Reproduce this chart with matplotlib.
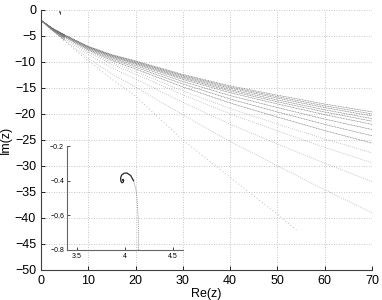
import matplotlib
matplotlib.use("Agg")
import matplotlib.pyplot as plt

plt.rcParams['font.family'] = ['Liberation Sans', 'DejaVu Sans']

# sample abscissae of the trajectories (Re z)
xs = [0, 2.5, 5, 10, 15, 20, 30, 40, 50, 60, 70]
# Im z of each trajectory
curves = [
    [-2, -3.60, -4.80, -7.00, -8.60, -9.80, -12.40, -14.60, -16.40, -18.10, -19.6],
    [-2, -3.61, -4.82, -7.05, -8.68, -9.90, -12.56, -14.82, -16.68, -18.44, -20.0],
    [-2, -3.62, -4.84, -7.10, -8.75, -10.01, -12.72, -15.04, -16.96, -18.78, -20.4],
    [-2, -3.63, -4.87, -7.16, -8.85, -10.14, -12.92, -15.32, -17.31, -19.20, -20.9],
    [-2, -3.64, -4.89, -7.22, -8.94, -10.27, -13.12, -15.59, -17.66, -19.63, -21.4],
    [-2, -3.65, -4.92, -7.29, -9.06, -10.42, -13.36, -15.92, -18.08, -20.14, -22.0],
    [-2, -3.67, -4.97, -7.41, -9.25, -10.68, -13.76, -16.47, -18.78, -20.99, -23.0],
    [-2, -3.69, -5.03, -7.55, -9.47, -11.00, -14.24, -17.13, -19.62, -22.01, -24.2],
    [-2, -3.72, -5.10, -7.72, -9.74, -11.36, -14.80, -17.90, -20.60, -23.20, -25.6],
    [-2, -3.76, -5.20, -7.95, -10.10, -11.85, -15.56, -18.95, -21.93, -24.82, -27.5],
    [-2, -3.80, -5.29, -8.18, -10.46, -12.35, -16.32, -19.99, -23.26, -26.43, -29.4],
    [-2, -3.87, -5.47, -8.61, -11.15, -13.28, -17.76, -21.97, -25.78, -29.49, -33.0],
    [-2, -3.99, -5.77, -9.33, -12.29, -14.84, -20.16, -25.27, -29.98, -34.59, -39.0],
]
low_x = [0, 2.5, 5, 10, 15, 20, 30, 40, 50, 54]
low_y = [-2, -4.1, -6.0, -9.8, -13.3, -16.6, -25.0, -32.2, -39.3, -42.3]

# the small spiral trajectory (shown in the inset)
sp_x = [4.14, 4.14, 4.138, 4.13, 4.115, 4.09, 4.06, 4.02, 3.99, 3.965, 3.955,
        3.958, 3.97, 3.983, 3.987, 3.98, 3.975]
sp_y = [-0.80, -0.70, -0.62, -0.53, -0.45, -0.40, -0.37, -0.355, -0.357, -0.368,
        -0.385, -0.403, -0.412, -0.408, -0.398, -0.392, -0.396]

xticks = [0, 10, 20, 30, 40, 50, 60, 70]
yticks = [0, -5, -10, -15, -20, -25, -30, -35, -40, -45, -50]
in_xticks = [3.5, 4, 4.5]
in_yticks = [-0.8, -0.6, -0.4, -0.2]

fig = plt.figure(figsize=(3.82, 3.0), dpi=100)
ax = fig.add_axes([0.107, 0.1, 0.867, 0.867])

for i, c in enumerate(curves):
    if i < 9:
        ls, col = (0, (1.5, 0.8)), '0.5'
    else:
        ls, col = (0, (1, 2)), '0.6'
    ax.plot(xs, c, color=col, lw=0.5, ls=ls)
    # denser start of each trajectory
    ax.plot(xs[:3], c[:3], color='0.45', lw=0.4)
ax.plot(low_x, low_y, color='0.65', lw=0.6, ls=(0, (1, 3)))
ax.plot(sp_x, sp_y, color='0.2', lw=0.7)

ax.set_xlim(0, 70)
ax.set_ylim(-50, 0)
ax.set_xticks(xticks)
ax.set_yticks(yticks)
ax.grid(True, ls=(0, (1, 2)), color='0.7', lw=0.6)
ax.tick_params(direction='in', length=3, labelsize=9, width=0.6)
for s in ['top', 'right']:
    ax.spines[s].set_visible(False)
for s in ['left', 'bottom']:
    ax.spines[s].set_linewidth(0.8)
    ax.spines[s].set_color('0.25')
ax.set_xlabel('Re(z)', fontsize=9, labelpad=1)
ax.set_ylabel('Im(z)', fontsize=9, labelpad=2)

ins = fig.add_axes([0.175, 0.1667, 0.304, 0.3463])
ins.patch.set_alpha(0)
ins.plot(sp_x[:6], sp_y[:6], color='0.6', lw=0.6, ls=(0, (1.5, 1)))
ins.plot(sp_x[5:], sp_y[5:], color='0.15', lw=0.9)
ins.set_xlim(3.396, 4.604)
ins.set_ylim(-0.8, -0.2)
ins.set_xticks(in_xticks)
ins.set_yticks(in_yticks)
ins.set_xticklabels(['3.5', '4', '4.5'])
ins.set_yticklabels(['\u22120.8', '\u22120.6', '\u22120.4', '\u22120.2'])
ins.tick_params(direction='in', length=2, labelsize=5, width=0.5, pad=2)
for s in ['top', 'right']:
    ins.spines[s].set_visible(False)
for s in ['left', 'bottom']:
    ins.spines[s].set_linewidth(0.8)
    ins.spines[s].set_color('0.4')

fig.savefig('out.png', dpi=100)
